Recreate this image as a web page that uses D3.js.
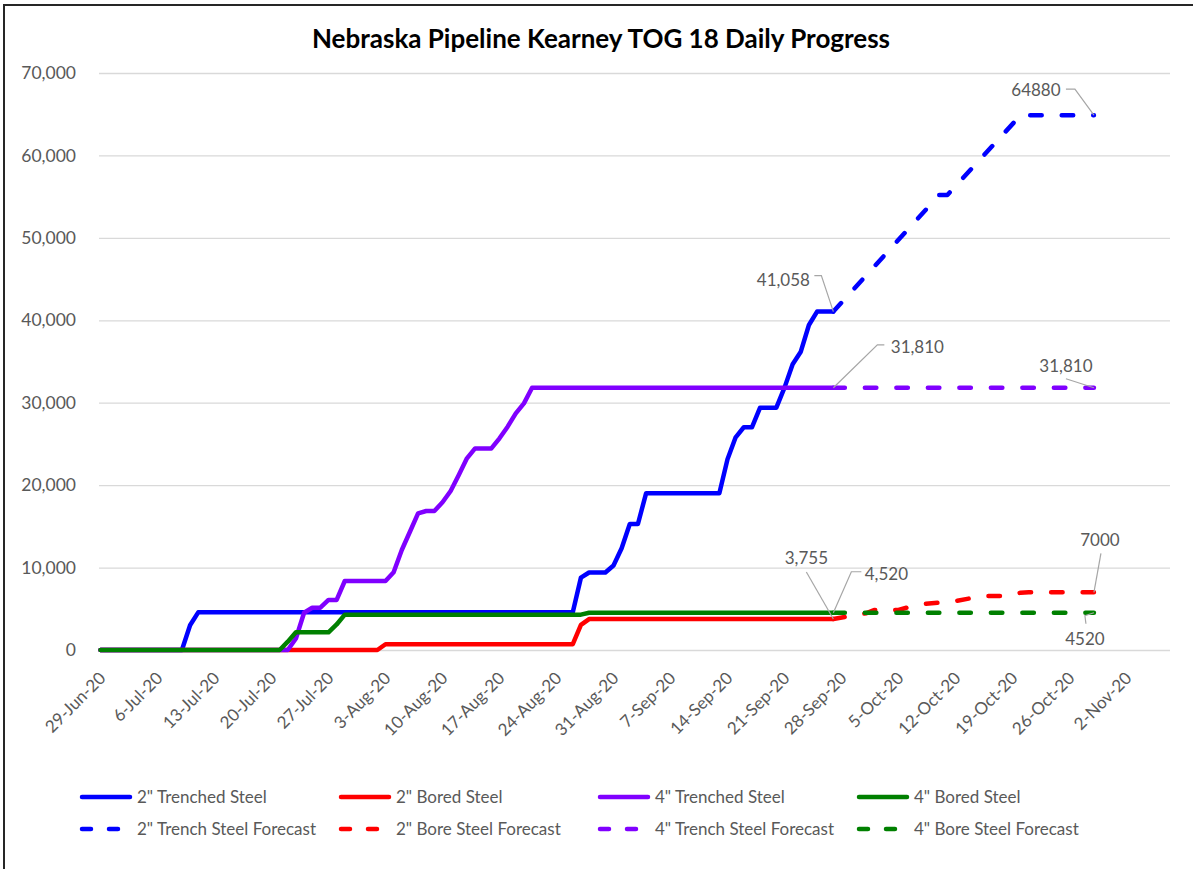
<!DOCTYPE html>
<meta charset="utf-8">
<style>
body { margin: 0; background: #fff; }
text { font-family: Lato, 'Open Sans', sans-serif; fill: #595959; }
.title { font-size: 26px; font-weight: bold; fill: #000; }
.tick text { font-size: 17.5px; }
.dlabel { font-size: 17px; }
.legend text { font-size: 17px; }
</style>
<script src="https://d3js.org/d3.v7.min.js"></script>
<div id="my_dataviz"></div>
<script>

// daily actuals, starting 29-Jun-20
var startDate = "2020-06-29";
var trench2 = [0,0,0,0,0,0,0,0,0,0,0,3000,
  4570,4570,4570,4570,4570,4570,4570,4570,4570,4570,4570,4570,4570,4570,4570,4570,
  4570,4570,4570,4570,4570,4570,4570,4570,4570,4570,4570,4570,4570,4570,4570,4570,
  4570,4570,4570,4570,4570,4570,4570,4570,4570,4570,4570,4570,4570,4570,4570,
  8780,9400,9400,9400,10250,12340,15290,15290,
  19010,19010,19010,19010,19010,19010,19010,19010,19010,19010,
  23140,25800,27020,27020,29400,29400,29400,31830,34660,36190,39430,41058,41058,41058];
var bore2 = [0,0,0,0,0,0,0,0,0,0,0,0,0,0,0,0,0,0,0,0,0,0,0,0,0,0,0,0,0,0,0,0,0,0,0,
  700,700,700,700,700,700,700,700,700,700,700,700,700,700,700,700,700,700,700,700,700,700,700,700,
  3050,
  3755,3755,3755,3755,3755,3755,3755,3755,3755,3755,3755,3755,3755,3755,3755,3755,
  3755,3755,3755,3755,3755,3755,3755,3755,3755,3755,3755,3755,3755,3755,3755];
var trench4 = [0,0,0,0,0,0,0,0,0,0,0,0,0,0,0,0,0,0,0,0,0,0,0,0,
  1400,4520,5130,5130,6070,6070,8370,8370,8370,8370,8370,8370,
  9430,12130,14350,16580,16860,16860,17920,19290,21230,23250,24460,24460,24460,
  25680,27090,28710,29920,
  31810,31810,31810,31810,31810,31810,31810,31810,31810,31810,31810,31810,31810,
  31810,31810,31810,31810,31810,31810,31810,31810,31810,31810,31810,31810,31810,
  31810,31810,31810,31810,31810,31810,31810,31810,31810,31810,31810,31810];
var bore4 = [0,0,0,0,0,0,0,0,0,0,0,0,0,0,0,0,0,0,0,0,0,0,0,
  1010,2150,2150,2150,2150,2150,3100,
  4290,4290,4290,4290,4290,4290,4290,4290,4290,4290,4290,4290,4290,4290,4290,
  4290,4290,4290,4290,4290,4290,4290,4290,4290,4290,4290,4290,4290,4290,4290,
  4520,4520,4520,4520,4520,4520,4520,4520,4520,4520,4520,4520,4520,4520,4520,4520,
  4520,4520,4520,4520,4520,4520,4520,4520,4520,4520,4520,4520,4520,4520,4520];

// forecasts: [date, value]
var trench2Fc = [["2020-09-27",41058],["2020-10-10",55200],["2020-10-11",55200],
  ["2020-10-20",64880],["2020-10-29",64880]];
var bore2Fc = [["2020-09-27",3755],["2020-09-29",4100],["2020-10-01",4450],["2020-10-02",4850],
  ["2020-10-05",4850],["2020-10-06",5130],["2020-10-08",5580],["2020-10-10",5740],
  ["2020-10-12",5940],["2020-10-14",6300],["2020-10-16",6550],["2020-10-18",6550],
  ["2020-10-20",6950],["2020-10-21",7000],["2020-10-29",7000]];
var trench4Fc = [["2020-09-27",31810],["2020-10-29",31810]];
var bore4Fc = [["2020-09-27",4520],["2020-10-29",4520]];

var seriesNames = ["2\" Trenched Steel","2\" Bored Steel","4\" Trenched Steel","4\" Bored Steel"];
var forecastNames = ["2\" Trench Steel Forecast","2\" Bore Steel Forecast","4\" Trench Steel Forecast","4\" Bore Steel Forecast"];
var colors = ["#0000ff","#ff0000","#8000ff","#008000"];

var yTicks = [0,10000,20000,30000,40000,50000,60000,70000];
var xTickStart = "2020-06-29", xTickEnd = "2020-11-02";

var W = 1196, H = 869;
var plotLeft = 99, plotRight = 1170, plotTop = 73, plotBottom = 650;

var parse = d3.timeParse("%Y-%m-%d");
var t0 = parse(startDate);

var svg = d3.select("#my_dataviz").append("svg")
  .attr("width", W).attr("height", H);

// frame
svg.append("path")
  .attr("d", "M4,869V5H1193")
  .attr("fill", "none").attr("stroke", "#262626").attr("stroke-width", 2);

var x = d3.scaleTime()
  .domain([parse(xTickStart), parse(xTickEnd)])
  .range([100.5, 1126.5]);
var y = d3.scaleLinear().domain([0, 70000]).range([plotBottom, plotTop]);

// gridlines + y labels
var gy = svg.append("g")
  .attr("transform", "translate(" + plotLeft + ",0)")
  .call(d3.axisLeft(y).tickValues(yTicks).tickFormat(d3.format(","))
    .tickSize(-(plotRight - plotLeft)).tickPadding(23));
gy.select(".domain").remove();
gy.selectAll(".tick line").attr("stroke", "#d9d9d9").attr("stroke-width", 1.3);

// x labels, weekly
var xTicks = d3.range(0, 19).map(function(i) { return d3.timeDay.offset(parse(xTickStart), i * 7); });
var fmt = d3.timeFormat("%-d-%b-%y");
svg.append("g").selectAll("text")
  .data(xTicks)
  .enter()
  .append("text")
    .attr("transform", function(d) { return "translate(" + (x(d) + 2) + ",675)rotate(-45)"; })
    .attr("text-anchor", "end")
    .attr("dy", "0.35em")
    .style("font-size", "17px")
    .text(fmt);

function daily(arr) {
  return arr.map(function(v, i) { return [d3.timeDay.offset(t0, i), v]; });
}
function dated(arr) {
  return arr.map(function(d) { return [parse(d[0]), d[1]]; });
}

var line = d3.line()
  .x(function(d) { return x(d[0]); })
  .y(function(d) { return y(d[1]); });

var actuals = [daily(trench2), daily(bore2), daily(trench4), daily(bore4)];
var forecasts = [dated(trench2Fc), dated(bore2Fc), dated(trench4Fc), dated(bore4Fc)];

var dash = "11.5 20";

svg.append("g").selectAll("path")
  .data(actuals)
  .enter()
  .append("path")
    .attr("d", line)
    .attr("fill", "none")
    .attr("stroke", function(d, i) { return colors[i]; })
    .attr("stroke-width", 4.5)
    .attr("stroke-linejoin", "round")
    .attr("stroke-linecap", "round");

svg.append("g").selectAll("path")
  .data(forecasts)
  .enter()
  .append("path")
    .attr("d", line)
    .attr("fill", "none")
    .attr("stroke", function(d, i) { return colors[i]; })
    .attr("stroke-width", 4.5)
    .attr("stroke-dasharray", dash)
    .attr("stroke-linejoin", "round")
    .attr("stroke-linecap", "round");

// data labels: point from a series, text offset + leader offsets
var labels = [
  {s: forecasts[0], i: 4, text: "64880", tx: -58, ty: -25, lead: [[-19,-26],[-28,-26]]},
  {s: actuals[0], i: 90, text: "41,058", tx: -50, ty: -32, lead: [[-12,-36],[-19,-36]]},
  {s: actuals[2], i: 90, text: "31,810", tx: 84, ty: -41, lead: [[44,-43],[51,-43]]},
  {s: forecasts[2], i: 1, text: "31,810", tx: -28, ty: -22, lead: [[-28,-9]]},
  {s: actuals[1], i: 90, text: "3,755", tx: -27, ty: -61, lead: [[-27,-47]]},
  {s: actuals[3], i: 90, text: "4,520", tx: 53, ty: -39, lead: [[18,-41],[28,-41]]},
  {s: forecasts[1], i: 14, text: "7000", tx: 6, ty: -52, lead: [[7,-39]]},
  {s: forecasts[3], i: 1, text: "4520", tx: -9, ty: 26, lead: [[-9,3],[-8,11]]}
];

var lg = svg.append("g");
labels.forEach(function(l) {
  var p = l.s[l.i];
  var px = x(p[0]), py = y(p[1]);
  var pts = [[px, py]].concat(l.lead.map(function(o) { return [px + o[0], py + o[1]]; }));
  lg.append("path")
    .attr("d", d3.line()(pts))
    .attr("fill", "none")
    .attr("stroke", "#a6a6a6")
    .attr("stroke-width", 1.2);
  lg.append("text")
    .attr("class", "dlabel")
    .attr("x", px + l.tx)
    .attr("y", py + l.ty)
    .attr("dy", "0.35em")
    .attr("text-anchor", "middle")
    .text(l.text);
});

// title
svg.append("text")
  .attr("class", "title")
  .attr("x", 601)
  .attr("y", 48)
  .attr("text-anchor", "middle")
  .text("Nebraska Pipeline Kearney TOG 18 Daily Progress");

// legend
var colX = [80, 339, 598, 857];
var rowY = [797, 829];
var leg = svg.append("g").attr("class", "legend");
[seriesNames, forecastNames].forEach(function(names, r) {
  names.forEach(function(n, i) {
    leg.append("line")
      .attr("x1", colX[i] + 2).attr("x2", colX[i] + 50)
      .attr("y1", rowY[r]).attr("y2", rowY[r])
      .attr("stroke", colors[i])
      .attr("stroke-width", 4.5)
      .attr("stroke-linecap", "round")
      .attr("stroke-dasharray", r === 1 ? "9 18" : null);
    leg.append("text")
      .attr("x", colX[i] + 57)
      .attr("y", rowY[r])
      .attr("dy", "0.35em")
      .text(n);
  });
});

</script>
